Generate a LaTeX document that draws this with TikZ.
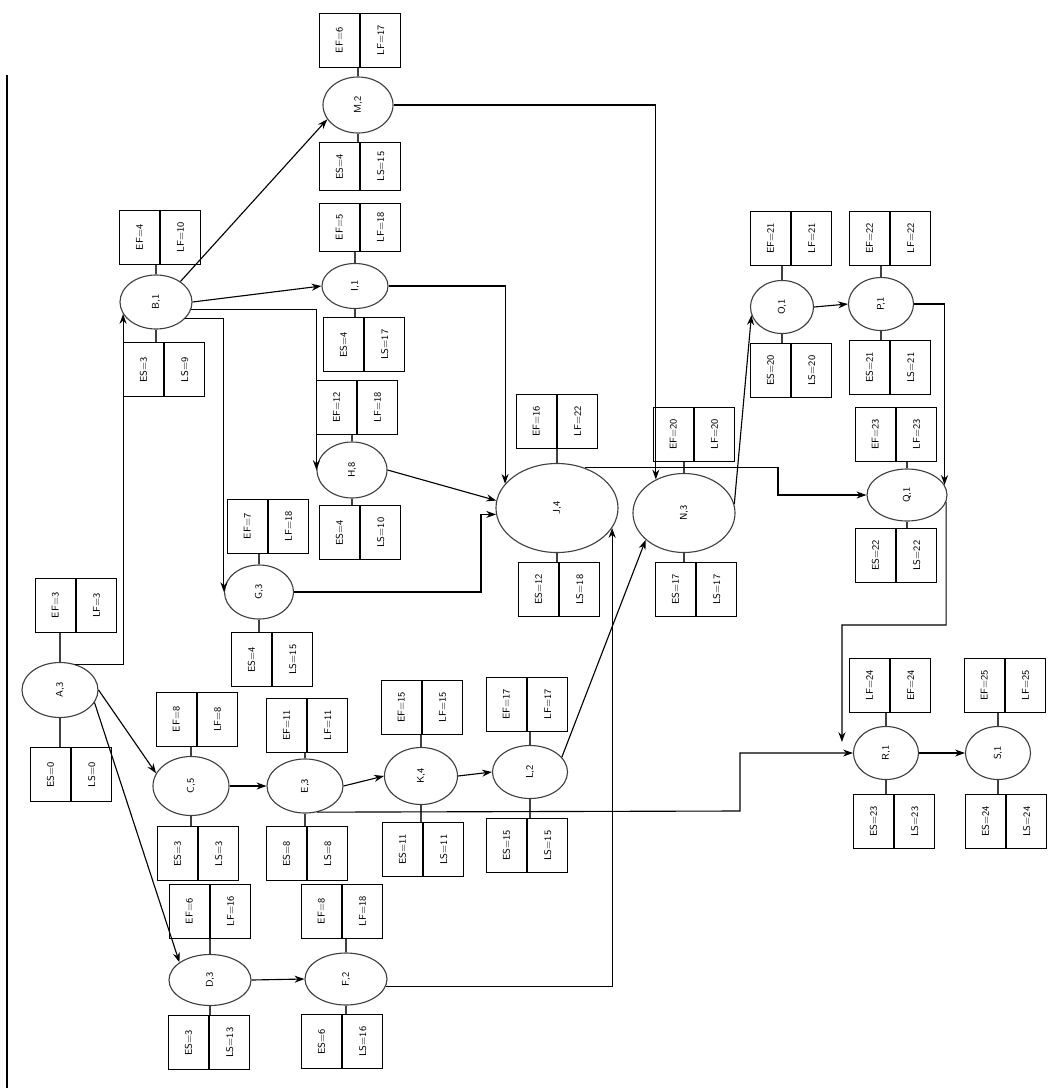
\documentclass[tikz,border=0pt]{standalone}
\usepackage{graphicx}
\usepackage{tikz}
\usetikzlibrary{
  shapes.geometric,
  arrows.meta,
  positioning,
  calc
}
\newcommand{\vt}[1]{\rotatebox{90}{#1}}

\begin{document}
\begin{tikzpicture}[
    x=0.025cm, y=-0.025cm,
    act/.style={
      ellipse,
      draw=black!75,
      line width=0.8pt,
      inner sep=0pt,
      minimum width=1.8cm,
      minimum height=1.35cm,
      font=\sffamily\scriptsize
    },
    cell/.style={
      rectangle,
      draw,
      line width=0.9pt,
      inner sep=0pt,
      minimum width=1cm,
      minimum height=1.35cm,
      font=\sffamily\scriptsize
    },
    short/.style={
      minimum height=1.2cm
    },
    stem/.style={
      line width=0.8pt,
      color=black!75
    },
    arrow/.style={
      -{Stealth[length=7pt, width=5pt]},
      line width=0.8pt
    },
    border/.style={
      line width=1pt
    }
  ]
    \useasboundingbox (0,0) rectangle (1059,1088);
    \draw[border] (7,75) -- (7,1088);

    % Activities (ellipses)
    \node[act, minimum width=1.9cm, minimum height=1.375cm] (A) at (60,690) {\vt{A,3}};
    \node[act] (B) at (156,302) {\vt{B,1}};
    \node[act, minimum width=1.9cm, minimum height=1.475cm] (C) at (191,786) {\vt{C,5}};
    \node[act, minimum width=2.05cm, minimum height=1.275cm] (D) at (210,980) {\vt{D,3}};
    \node[act, minimum width=1.9cm] (E) at (305,786) {\vt{E,3}};
    \node[act, minimum width=2.05cm, minimum height=1.3cm] (F) at (346,979) {\vt{F,2}};
    \node[act, minimum width=1.725cm] (G) at (259,592) {\vt{G,3}};
    \node[act, minimum width=1.75cm, minimum height=1.4cm] (H) at (352,470) {\vt{H,8}};
    \node[act, minimum width=1.65cm, minimum height=1.125cm] (I) at (355,286) {\vt{I,1}};
    \node[act, minimum width=3.05cm, minimum height=2.225cm] (J) at (557,508) {\vt{J,4}};
    \node[act, minimum width=1.825cm, minimum height=1.425cm] (K) at (421,776) {\vt{K,4}};
    \node[act, minimum width=1.875cm, minimum height=1.325cm] (L) at (530,772) {\vt{L,2}};
    \node[act, minimum width=1.75cm, minimum height=1.4cm] (M) at (358,105) {\vt{M,2}};
    \node[act, minimum width=2.55cm, minimum height=1.975cm] (N) at (684,513) {\vt{N,3}};
    \node[act, minimum width=1.575cm, minimum height=1.325cm] (O) at (782,307) {\vt{O,1}};
    \node[act, minimum width=1.625cm, minimum height=1.325cm] (P) at (881,304) {\vt{P,1}};
    \node[act, minimum width=2cm, minimum height=1.3cm] (Q) at (907,495) {\vt{Q,1}};
    \node[act, minimum width=1.625cm, minimum height=1.325cm] (R) at (886,753) {\vt{R,1}};
    \node[act, minimum width=1.625cm, minimum height=1.325cm] (S) at (998,753) {\vt{S,1}};

    % EF / LF above, ES / LS below
    \node[cell, anchor=south east] (A-ef) at (76,633) {\vt{EF=3}};
    \node[cell, right=0pt of A-ef] (A-lf) {\vt{LF=3}};
    \node[cell, anchor=north east] (A-es) at (71,747) {\vt{ES=0}};
    \node[cell, right=0pt of A-es] (A-ls) {\vt{LS=0}};

    \node[cell, anchor=south east] (B-ef) at (160,265) {\vt{EF=4}};
    \node[cell, right=0pt of B-ef] (B-lf) {\vt{LF=10}};
    \node[cell, anchor=north east] (B-es) at (164,342) {\vt{ES=3}};
    \node[cell, right=0pt of B-es] (B-ls) {\vt{LS=9}};

    \node[cell, anchor=south east] (C-ef) at (197,747) {\vt{EF=8}};
    \node[cell, right=0pt of C-ef] (C-lf) {\vt{LF=8}};
    \node[cell, anchor=north east] (C-es) at (198,826) {\vt{ES=3}};
    \node[cell, right=0pt of C-es] (C-ls) {\vt{LS=3}};

    \node[cell, anchor=south east] (D-ef) at (210,939) {\vt{EF=6}};
    \node[cell, right=0pt of D-ef] (D-lf) {\vt{LF=16}};
    \node[cell, anchor=north east] (D-es) at (209,1015) {\vt{ES=3}};
    \node[cell, right=0pt of D-es] (D-ls) {\vt{LS=13}};

    \node[cell, anchor=south east] (E-ef) at (307,753) {\vt{EF=11}};
    \node[cell, right=0pt of E-ef] (E-lf) {\vt{LF=11}};
    \node[cell, anchor=north east] (E-es) at (307,826) {\vt{ES=8}};
    \node[cell, right=0pt of E-es] (E-ls) {\vt{LS=8}};

    \node[cell, anchor=south east] (F-ef) at (342,939) {\vt{EF=8}};
    \node[cell, right=0pt of F-ef] (F-lf) {\vt{LF=18}};
    \node[cell, anchor=north east] (F-es) at (342,1014) {\vt{ES=6}};
    \node[cell, right=0pt of F-es] (F-ls) {\vt{LS=16}};

    \node[cell, anchor=south east] (G-ef) at (268,554) {\vt{EF=7}};
    \node[cell, right=0pt of G-ef] (G-lf) {\vt{LF=18}};
    \node[cell, anchor=north east] (G-es) at (272,632) {\vt{ES=4}};
    \node[cell, right=0pt of G-es] (G-ls) {\vt{LS=15}};

    \node[cell, anchor=south east] (H-ef) at (357,435) {\vt{EF=12}};
    \node[cell, right=0pt of H-ef] (H-lf) {\vt{LF=18}};
    \node[cell, anchor=north east] (H-es) at (360,505) {\vt{ES=4}};
    \node[cell, right=0pt of H-es] (H-ls) {\vt{LS=10}};

    \node[cell, short, anchor=south east] (I-ef) at (360,252) {\vt{EF=5}};
    \node[cell, short, right=0pt of I-ef] (I-lf) {\vt{LF=18}};
    \node[cell, anchor=north east] (I-es) at (364,317) {\vt{ES=4}};
    \node[cell, right=0pt of I-es] (I-ls) {\vt{LS=17}};

    \node[cell, anchor=south east] (J-ef) at (557,449) {\vt{EF=16}};
    \node[cell, right=0pt of J-ef] (J-lf) {\vt{LF=22}};
    \node[cell, anchor=north east] (J-es) at (559,562) {\vt{ES=12}};
    \node[cell, right=0pt of J-es] (J-ls) {\vt{LS=18}};

    \node[cell, anchor=south east] (K-ef) at (422,735) {\vt{EF=15}};
    \node[cell, right=0pt of K-ef] (K-lf) {\vt{LF=15}};
    \node[cell, anchor=north east] (K-es) at (423,822) {\vt{ES=11}};
    \node[cell, right=0pt of K-es] (K-ls) {\vt{LS=11}};

    \node[cell, anchor=south east] (L-ef) at (527,732) {\vt{EF=17}};
    \node[cell, right=0pt of L-ef] (L-lf) {\vt{LF=17}};
    \node[cell, anchor=north east] (L-es) at (527,818) {\vt{ES=15}};
    \node[cell, right=0pt of L-es] (L-ls) {\vt{LS=15}};

    \node[cell, anchor=south east] (M-ef) at (360,68) {\vt{EF=6}};
    \node[cell, right=0pt of M-ef] (M-lf) {\vt{LF=17}};
    \node[cell, short, anchor=north east] (M-es) at (360,142) {\vt{ES=4}};
    \node[cell, short, right=0pt of M-es] (M-ls) {\vt{LS=15}};

    \node[cell, anchor=south east] (N-ef) at (694,462) {\vt{EF=20}};
    \node[cell, right=0pt of N-ef] (N-lf) {\vt{LF=20}};
    \node[cell, anchor=north east] (N-es) at (696,562) {\vt{ES=17}};
    \node[cell, right=0pt of N-es] (N-ls) {\vt{LS=17}};

    \node[cell, anchor=south east] (O-ef) at (791,266) {\vt{EF=21}};
    \node[cell, right=0pt of O-ef] (O-lf) {\vt{LF=21}};
    \node[cell, anchor=north east] (O-es) at (791,343) {\vt{ES=20}};
    \node[cell, right=0pt of O-es] (O-ls) {\vt{LS=20}};

    \node[cell, anchor=south east] (P-ef) at (890,266) {\vt{EF=22}};
    \node[cell, right=0pt of P-ef] (P-lf) {\vt{LF=22}};
    \node[cell, anchor=north east] (P-es) at (890,340) {\vt{ES=21}};
    \node[cell, right=0pt of P-es] (P-ls) {\vt{LS=21}};

    \node[cell, anchor=south east] (Q-ef) at (896,462) {\vt{EF=23}};
    \node[cell, right=0pt of Q-ef] (Q-lf) {\vt{LF=23}};
    \node[cell, anchor=north east] (Q-es) at (896,528) {\vt{ES=22}};
    \node[cell, right=0pt of Q-es] (Q-ls) {\vt{LS=22}};

    \node[cell, anchor=south east] (R-lf) at (890,713) {\vt{LF=24}};
    \node[cell, right=0pt of R-lf] (R-ef) {\vt{EF=24}};
    \node[cell, anchor=north east] (R-es) at (894,794) {\vt{ES=23}};
    \node[cell, right=0pt of R-es] (R-ls) {\vt{LS=23}};

    \node[cell, anchor=south east] (S-ef) at (1005,713) {\vt{EF=25}};
    \node[cell, right=0pt of S-ef] (S-lf) {\vt{LF=25}};
    \node[cell, anchor=north east] (S-es) at (1006,794) {\vt{ES=24}};
    \node[cell, right=0pt of S-es] (S-ls) {\vt{LS=24}};

    % Stems between ellipses and their boxes
    \foreach \n/\t/\b in {A/A-ef/A-es, B/B-ef/B-es, C/C-ef/C-es, D/D-ef/D-es,
                          E/E-ef/E-es, F/F-ef/F-es, G/G-ef/G-es, H/H-ef/H-es,
                          I/I-ef/I-es, J/J-ef/J-es, K/K-ef/K-es, L/L-ef/L-es,
                          M/M-ef/M-es, N/N-ef/N-es, O/O-ef/O-es, P/P-ef/P-es,
                          Q/Q-ef/Q-es, R/R-lf/R-es, S/S-ef/S-es} {
      \draw[stem] (\n.north) -- (\n.north |- \t.south);
      \draw[stem] (\n.south) -- (\n.south |- \b.north);
    }

    % Bend points
    \coordinate (eBend) at (740,811);
    \coordinate (jq) at (778,495);
    \coordinate (qr) at (842,625);

    % Dependencies
    \draw[arrow] (A.60) -| (B.200);
    \draw[arrow] (A.east) -- (C.160);
    \draw[arrow] (A.-20) -- (D.150);
    \draw[arrow] (B.40) -- (M.205);
    \draw[arrow] (B.east) -- (I.west);
    \draw[arrow] (B.-12) -| (H.west);
    \draw[arrow] (B.-30) -| (G.west);
    \draw[arrow] (M.east) -| (N.130);
    \draw[arrow] (I.east) -| (J.155);
    \draw[arrow] (H.east) -- (J.173);
    \draw[arrow] (G.east) -| ($(J.186)+(-15,0)$) -- (J.186);
    \draw[arrow] (C.east) -- (E.west);
    \draw[arrow] (E.east) -- (K.west);
    \draw[arrow] (E.-65) -- (eBend) |- (R.west);
    \draw[arrow] (K.east) -- (L.west);
    \draw[arrow] (L.25) -- (N.215);
    \draw[arrow] (D.east) -- (F.west);
    \draw[arrow] (F.-10) -| (J.-20);
    \draw[arrow] (J.55) -| (jq) -- (Q.west);
    \draw[arrow] (N.10) -- (O.195);
    \draw[arrow] (O.east) -- (P.west);
    \draw[arrow] (P.east) -| (Q.15);
    \draw[arrow] (Q.-10) |- (qr) -- ($(R.west)+(-11,-11)$);
    \draw[arrow] (R.east) -- (S.west);
  \end{tikzpicture}
\end{document}
